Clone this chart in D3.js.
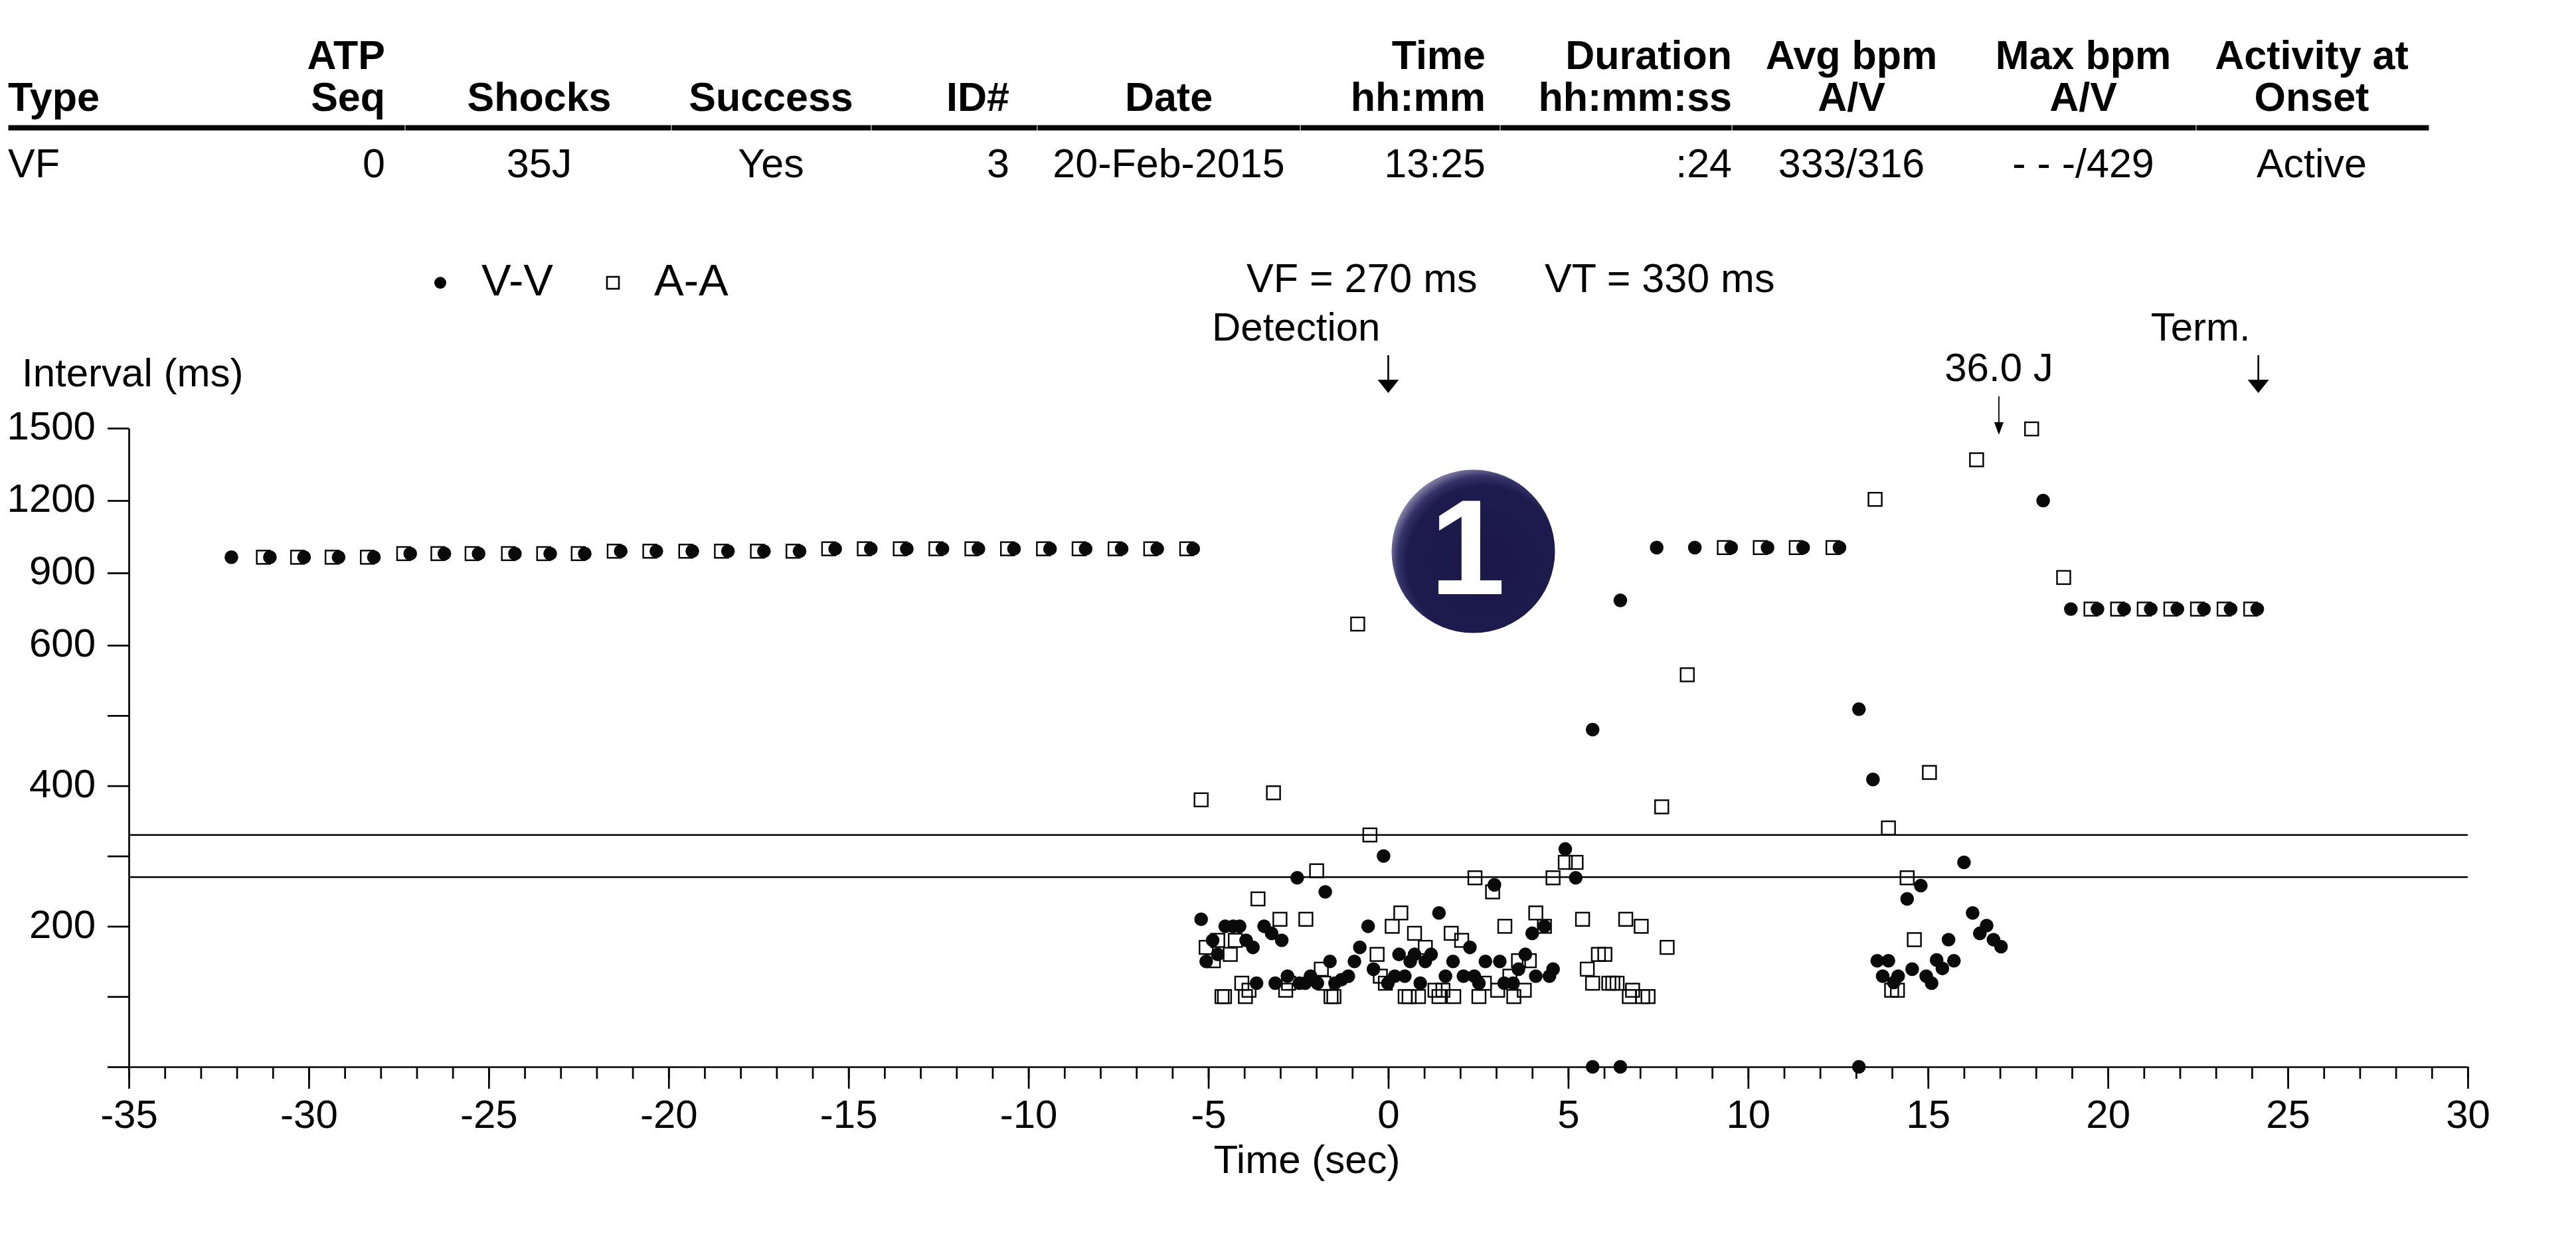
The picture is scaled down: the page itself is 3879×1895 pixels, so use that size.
<!DOCTYPE html>
<html><head><meta charset="utf-8">
<script src="https://cdn.jsdelivr.net/npm/d3@7"></script>
<style>
html,body{margin:0;padding:0;background:#fff;}
svg{display:block;}
text{font-family:"Liberation Sans",Arial,Helvetica,sans-serif;fill:#000;}
</style>
</head><body>
<svg id="c" width="3879" height="1895"></svg>
<script>
// ---------------- DATA ----------------
const headerRow1 = ["", "ATP", "", "", "", "", "Time", "Duration", "Avg bpm", "Max bpm", "Activity at"];
const headerRow2 = ["Type", "Seq", "Shocks", "Success", "ID#", "Date", "hh:mm", "hh:mm:ss", "A/V", "A/V", "Onset"];
const episodeValues = ["VF", "0", "35J", "Yes", "3", "20-Feb-2015", "13:25", ":24", "333/316", "- - -/429", "Active"];

const xTickValues = [-35, -30, -25, -20, -15, -10, -5, 0, 5, 10, 15, 20, 25, 30];
const yTickValues = [0, 100, 200, 300, 400, 500, 600, 900, 1200, 1500];
const yTickLabels = [200, 400, 600, 900, 1200, 1500];

const zoneNames = ["VF", "VT"];
const zoneMs = [270, 330];

const eventNames = ["Detection", "Term."];
const eventTimes = [0, 24.18];
const shockLabel = "36.0 J";
const shockTime = 16.97;
const badgeLabel = "1";

const legendNames = ["V-V", "A-A"];

// V-V intervals: [time (s), interval (ms)]
const vvPoints = [
 [-32.15,965],[-31.08,965],[-30.13,965],[-29.17,965],[-28.19,965],
 [-27.18,980],[-26.23,980],[-25.28,980],[-24.27,980],[-23.29,980],[-22.33,980],
 [-21.33,990],[-20.34,990],[-19.34,990],[-18.35,990],[-17.35,990],[-16.36,990],
 [-15.37,1000],[-14.38,1000],[-13.38,1000],[-12.39,1000],[-11.39,1000],[-10.40,1000],
 [-9.40,1000],[-8.41,1000],[-7.41,1000],[-6.42,1000],[-5.42,1000],
 [-5.20,210],[-5.06,150],[-4.88,180],[-4.74,160],[-4.53,200],[-4.31,200],[-4.13,200],
 [-3.95,180],[-3.76,170],[-3.66,119],[-3.45,200],[-3.24,190],[-3.14,119],[-2.96,180],
 [-2.80,129],[-2.53,269],[-2.47,119],[-2.31,119],[-2.16,129],[-1.97,119],[-1.75,249],
 [-1.62,150],[-1.48,119],[-1.30,124],[-1.11,129],[-0.94,150],[-0.79,170],[-0.56,200],
 [-0.41,139],[-0.13,300],[-0.01,119],[0.18,129],[0.30,160],[0.46,129],[0.61,150],
 [0.73,160],[0.89,119],[1.03,150],[1.19,160],[1.41,219],[1.59,129],[1.80,150],
 [2.09,129],[2.27,170],[2.39,129],[2.52,119],[2.70,150],[2.95,259],[3.10,150],
 [3.22,119],[3.47,119],[3.62,139],[3.81,160],[4.00,190],[4.10,129],[4.34,200],
 [4.48,129],[4.58,139],[4.92,310],[5.21,269],[5.68,480],[5.68,0],[6.45,786],[6.45,0],
 [7.46,1005],[8.52,1005],[9.53,1005],[10.54,1005],[11.53,1005],[12.54,1005],
 [13.08,509],[13.08,0],[13.47,409],[13.59,151],[13.74,129],[13.90,151],[14.05,120],
 [14.17,129],[14.42,239],[14.56,139],[14.80,258],[14.95,129],[15.10,119],[15.24,152],
 [15.40,140],[15.57,181],[15.72,151],[16.00,291],[16.24,219],[16.44,190],[16.63,201],
 [16.82,181],[17.03,171],[18.20,1200],
 [18.97,750],[19.71,750],[20.45,750],[21.19,750],[21.93,750],[22.67,750],[23.41,750],[24.15,750]
];

// A-A intervals: [time (s), interval (ms)]
const aaPoints = [
 [-31.26,965],[-30.31,965],[-29.35,965],[-28.37,965],
 [-27.36,980],[-26.41,980],[-25.46,980],[-24.45,980],[-23.47,980],[-22.51,980],
 [-21.51,990],[-20.52,990],[-19.52,990],[-18.53,990],[-17.53,990],[-16.54,990],
 [-15.55,1000],[-14.56,1000],[-13.56,1000],[-12.57,1000],[-11.57,1000],[-10.58,1000],
 [-9.58,1000],[-8.59,1000],[-7.59,1000],[-6.60,1000],[-5.60,1000],
 [-5.20,380],[-5.06,170],[-4.86,151],[-4.74,180],[-4.62,100],[-4.55,100],[-4.39,160],
 [-4.25,180],[-4.07,119],[-3.97,100],[-3.87,109],[-3.62,239],[-3.19,390],[-3.01,210],
 [-2.85,109],[-2.77,119],[-2.29,210],[-1.99,279],[-1.86,139],[-1.79,119],[-1.59,100],
 [-1.51,100],[-0.85,688],[-0.51,330],[-0.31,160],[-0.22,129],[-0.08,119],[0.11,200],
 [0.35,219],[0.47,100],[0.58,100],[0.73,190],[0.84,100],[1.03,170],[1.30,109],
 [1.41,100],[1.52,109],[1.75,190],[1.82,100],[2.04,180],[2.41,269],[2.52,100],
 [2.67,119],[2.90,249],[3.04,109],[3.24,200],[3.38,129],[3.49,100],[3.62,151],
 [3.78,109],[3.92,151],[4.10,219],[4.34,200],[4.58,269],[4.92,291],[5.22,291],
 [5.40,210],[5.53,139],[5.68,119],[5.84,160],[6.02,160],[6.13,119],[6.24,119],
 [6.36,119],[6.60,210],[6.70,100],[6.79,109],[7.03,200],[7.07,100],[7.22,100],
 [7.60,370],[7.75,170],[8.31,558],[9.34,1005],[10.34,1005],[11.34,1005],[12.36,1005],
 [13.53,1205],[13.90,340],[13.99,109],[14.15,109],[14.42,269],[14.62,181],[15.04,419],
 [16.35,1369],[17.88,1497],[18.77,881],
 [19.53,750],[20.27,750],[21.01,750],[21.75,750],[22.49,750],[23.23,750],[23.97,750]
];

// ---------------- LAYOUT ----------------
const W = 3879, H = 1895;
const colX = [12, 580, 812, 1161, 1520, 1760, 2237, 2608, 2788, 3137, 3481];
const colAnchor = ["start","end","middle","middle","end","middle","end","end","middle","middle","middle"];
const ruleBreaks = [12, 610, 1011, 1312, 1562, 1958, 2259, 2608, 3307, 3658];

const svg = d3.select("#c");
svg.append("rect").attr("width", W).attr("height", H).attr("fill", "#fff");

// Header table
const tbl = svg.append("g");
tbl.selectAll("text.h1").data(headerRow1).join("text")
  .attr("x", (d,i) => colX[i]).attr("y", 104).attr("text-anchor", (d,i) => colAnchor[i])
  .attr("font-size", 61).attr("font-weight", "bold").text(d => d);
tbl.selectAll("text.h2").data(headerRow2).join("text")
  .attr("x", (d,i) => colX[i]).attr("y", 167).attr("text-anchor", (d,i) => colAnchor[i])
  .attr("font-size", 61).attr("font-weight", "bold").text(d => d);
tbl.selectAll("rect.rule").data(d3.pairs(ruleBreaks)).join("rect")
  .attr("x", d => d[0] + 0.5).attr("width", d => d[1] - d[0] - 1)
  .attr("y", 188.5).attr("height", 8).attr("fill", "#080808");
tbl.selectAll("text.v").data(episodeValues).join("text")
  .attr("x", (d,i) => colX[i]).attr("y", 267).attr("text-anchor", (d,i) => colAnchor[i])
  .attr("font-size", 61).text(d => d);

// Scales
const x = d3.scaleLinear().domain([-35, 30]).range([194, 3716]);
const y = d3.scaleLinear().domain([0, 600, 1500]).range([1607, 972, 645]);

// Zone threshold lines
svg.append("g").selectAll("line").data(zoneMs).join("line")
  .attr("x1", x(-35)).attr("x2", x(30))
  .attr("y1", d => y(d)).attr("y2", d => y(d))
  .attr("stroke", "#000").attr("stroke-width", 2.4);

// Y axis
const yAxis = svg.append("g").attr("transform", `translate(${x(-35)},0)`)
  .call(d3.axisLeft(y).tickValues(yTickValues).tickSize(32).tickSizeOuter(0).tickPadding(18)
    .tickFormat(d => yTickLabels.includes(d) ? String(d) : ""));
yAxis.selectAll("path,line").attr("stroke", "#000").attr("stroke-width", 2.7);
yAxis.selectAll("text").attr("font-size", 60).attr("dy", "0.28em")
  .attr("font-family", '"Liberation Sans",Arial,sans-serif').attr("fill", "#000");

// X axis minor ticks
const xMinor = svg.append("g").attr("transform", `translate(0,${y(0)})`)
  .call(d3.axisBottom(x).tickValues(d3.range(-35, 31, 1)).tickSize(18).tickSizeOuter(0).tickFormat(""));
xMinor.select(".domain").remove();
xMinor.selectAll("line").attr("stroke", "#000").attr("stroke-width", 2.7);

// X axis major
const xAxis = svg.append("g").attr("transform", `translate(0,${y(0)})`)
  .call(d3.axisBottom(x).tickValues(xTickValues).tickSize(33).tickSizeOuter(0).tickFormat(d => String(d)));
xAxis.selectAll("path,line").attr("stroke", "#000").attr("stroke-width", 2.7);
xAxis.selectAll("text").attr("font-size", 60).attr("y", 92).attr("dy", 0)
  .attr("font-family", '"Liberation Sans",Arial,sans-serif').attr("fill", "#000");

// Axis titles
svg.append("text").attr("x", 33).attr("y", 582).attr("font-size", 60).text("Interval (ms)");
svg.append("text").attr("x", 1968).attr("y", 1767).attr("text-anchor", "middle")
  .attr("font-size", 60).text("Time (sec)");

// Zone labels
svg.append("text").attr("x", 1877).attr("y", 440).attr("font-size", 61)
  .text(`${zoneNames[0]} = ${zoneMs[0]} ms`);
svg.append("text").attr("x", 2326).attr("y", 440).attr("font-size", 61)
  .text(`${zoneNames[1]} = ${zoneMs[1]} ms`);

// Event markers (Detection / Term.)
const ev = svg.append("g");
eventTimes.forEach((t, i) => {
  const ex = x(t);
  ev.append("text").attr("x", ex - 12).attr("y", 513).attr("text-anchor", "end")
    .attr("font-size", 60).text(eventNames[i]);
  ev.append("line").attr("x1", ex).attr("x2", ex).attr("y1", 535).attr("y2", 576)
    .attr("stroke", "#000").attr("stroke-width", 2.6);
  ev.append("path").attr("d", `M${ex-16},572 L${ex+16},572 L${ex},592 Z`).attr("fill", "#000");
});

// Shock marker
const sx = x(shockTime);
svg.append("text").attr("x", sx).attr("y", 574).attr("text-anchor", "middle")
  .attr("font-size", 60).text(shockLabel);
svg.append("line").attr("x1", sx).attr("x2", sx).attr("y1", 597).attr("y2", 640)
  .attr("stroke", "#000").attr("stroke-width", 1.8);
svg.append("path").attr("d", `M${sx-7},636 L${sx+7},636 L${sx},655 Z`).attr("fill", "#000");

// Legend
const lg = svg.append("g");
lg.append("circle").attr("cx", 663).attr("cy", 426).attr("r", 9).attr("fill", "#000");
lg.append("text").attr("x", 725).attr("y", 445).attr("font-size", 67).text(legendNames[0]);
lg.append("rect").attr("x", 914).attr("y", 417).attr("width", 18).attr("height", 18)
  .attr("fill", "none").attr("stroke", "#000").attr("stroke-width", 2.6);
lg.append("text").attr("x", 985).attr("y", 445).attr("font-size", 67).text(legendNames[1]);

// Data points: A-A squares, then V-V dots
const pts = svg.append("g");
pts.selectAll("rect.aa").data(aaPoints).join("rect")
  .attr("class", "aa")
  .attr("x", d => x(d[0]) - 10).attr("y", d => y(d[1]) - 10)
  .attr("width", 20).attr("height", 20)
  .attr("fill", "none").attr("stroke", "#000").attr("stroke-width", 2.4);
pts.selectAll("circle.vv").data(vvPoints).join("circle")
  .attr("class", "vv")
  .attr("cx", d => x(d[0])).attr("cy", d => y(d[1])).attr("r", 10.3)
  .attr("fill", "#0a0a0a");

// Badge
const defs = svg.append("defs");
const grad = defs.append("radialGradient").attr("id", "badgeGrad")
  .attr("cx", "0.56").attr("cy", "0.56").attr("r", "0.585").attr("fx", "0.58").attr("fy", "0.6");
grad.append("stop").attr("offset", "0").attr("stop-color", "#1c1849");
grad.append("stop").attr("offset", "0.8").attr("stop-color", "#1d1a4d");
grad.append("stop").attr("offset", "0.9").attr("stop-color", "#37346a");
grad.append("stop").attr("offset", "1").attr("stop-color", "#8a87aa");
svg.append("circle").attr("cx", 2218.5).attr("cy", 830.6).attr("r", 123).attr("fill", "url(#badgeGrad)");
svg.append("text").attr("x", 2210).attr("y", 895).attr("text-anchor", "middle")
  .attr("font-size", 204).attr("font-weight", "bold").style("fill", "#fff").text(badgeLabel);
</script>
</body></html>
